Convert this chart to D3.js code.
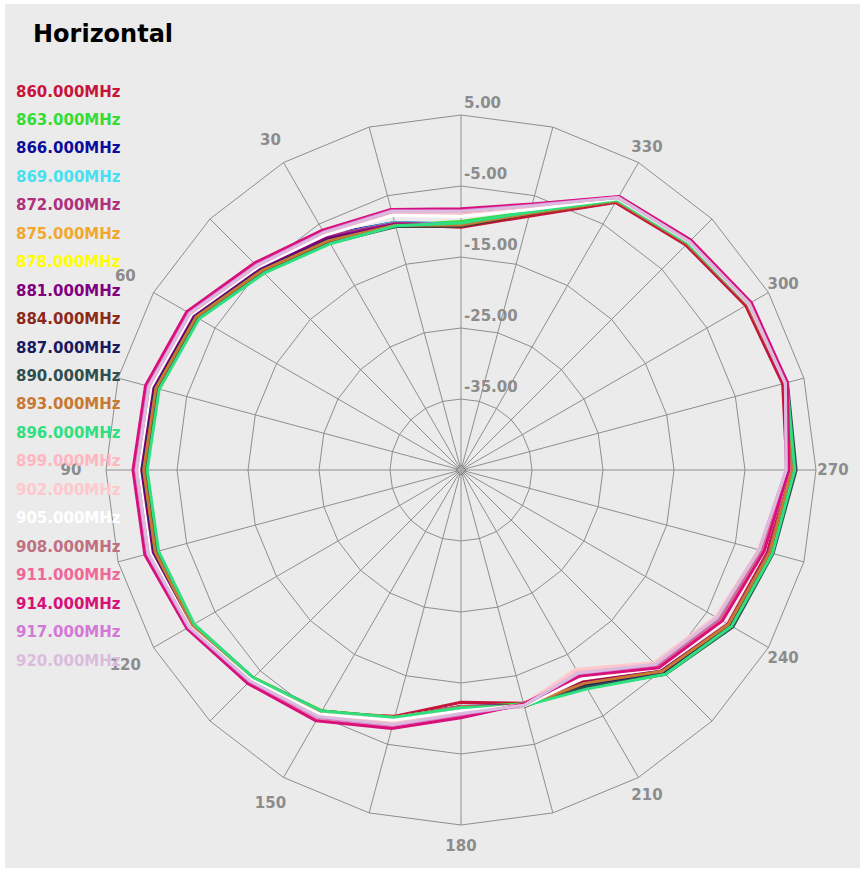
<!DOCTYPE html>
<html>
<head>
<meta charset="utf-8">
<script src="https://cdn.jsdelivr.net/npm/d3@7"></script>
<style>
  body { margin: 0; background: #ffffff; }
  text { font-family: "DejaVu Sans", Verdana, sans-serif; font-weight: bold; }
</style>
</head>
<body>
<script>
// angles in degrees, counter-clockwise from the top
const angles = d3.range(0, 360, 15);
const angleTicks = [30, 60, 90, 120, 150, 180, 210, 240, 270, 300, 330];
const radialTicks = [5, -5, -15, -25, -35];
const radialLabels = ['5.00', '-5.00', '-15.00', '-25.00', '-35.00'];

const freqs = ['860.000MHz', '863.000MHz', '866.000MHz', '869.000MHz', '872.000MHz', '875.000MHz',
  '878.000MHz', '881.000MHz', '884.000MHz', '887.000MHz', '890.000MHz', '893.000MHz', '896.000MHz',
  '899.000MHz', '902.000MHz', '905.000MHz', '908.000MHz', '911.000MHz', '914.000MHz', '917.000MHz',
  '920.000MHz'];

const colors = ['#c8143c', '#33dd33', '#0c0c9c', '#48e0f0', '#b03080', '#f0a830', '#ffff00',
  '#800080', '#8b2a1a', '#1a1a60', '#2f4f4f', '#c87830', '#30e080', '#ffb6c1', '#ffc8cc',
  '#ffffff', '#c07080', '#f06898', '#d8107a', '#d478d8', '#dcbcdc'];

// gain in dB, one value per 15 degrees
const gains = [
  [-10.8, -9.2, -6.7, -4.0, -0.6, 0.8, 1.0, 0.8, -0.6, -3.2, -5.5, -9.1, -12.3, -11.0, -10.6, -5.0, -1.6, -0.3, 0.9, 1.9, 1.3, -0.2, -1.5, -8.0],
  [-10.0, -9.3, -8.0, -5.6, -2.2, -0.8, -0.6, -0.6, -1.5, -3.6, -5.8, -8.9, -11.6, -10.9, -9.6, -4.3, -0.9, 0.4, 2.1, 2.5, 1.8, 0.3, -1.1, -7.4],
  [-10.4, -8.9, -6.8, -4.3, -0.9, 0.5, 0.7, 0.5, -0.8, -3.4, -5.6, -8.9, -11.7, -10.7, -10.1, -4.7, -1.3, 0.1, 1.8, 2.3, 1.6, 0.1, -1.2, -7.6],
  [-10.4, -8.9, -7.0, -4.5, -1.1, 0.3, 0.5, 0.3, -0.9, -3.5, -5.7, -8.9, -11.6, -10.6, -10.2, -4.8, -1.4, 0.0, 1.7, 2.3, 1.6, 0.1, -1.2, -7.6],
  [-10.5, -9.0, -7.0, -4.6, -1.2, 0.2, 0.4, 0.3, -0.9, -3.4, -5.6, -8.8, -11.7, -10.7, -10.2, -4.9, -1.5, -0.1, 1.5, 2.2, 1.6, 0.2, -1.1, -7.5],
  [-10.6, -9.3, -7.4, -5.0, -1.6, -0.2, 0.0, -0.1, -1.2, -3.6, -5.8, -8.9, -11.6, -10.6, -10.3, -4.9, -1.5, 0.0, 1.6, 2.3, 1.7, 0.1, -1.2, -7.6],
  [-10.6, -9.4, -7.5, -5.1, -1.7, -0.3, -0.1, -0.2, -1.2, -3.6, -5.8, -8.9, -11.6, -10.6, -10.3, -4.9, -1.4, 0.1, 1.7, 2.4, 1.7, 0.1, -1.2, -7.6],
  [-10.5, -9.2, -7.3, -4.9, -1.5, -0.1, 0.1, 0.0, -1.1, -3.5, -5.7, -8.8, -11.6, -10.6, -10.4, -5.0, -1.5, 0.0, 1.6, 2.3, 1.6, 0.1, -1.2, -7.6],
  [-10.7, -9.5, -7.8, -5.4, -2.0, -0.6, -0.4, -0.5, -1.4, -3.5, -5.7, -8.8, -11.5, -10.5, -10.3, -4.9, -1.4, 0.1, 1.7, 2.4, 1.7, 0.1, -1.2, -7.7],
  [-10.6, -9.4, -7.6, -5.2, -1.8, -0.4, -0.2, -0.3, -1.3, -3.5, -5.7, -8.8, -11.5, -10.6, -10.0, -4.6, -1.1, 0.3, 1.9, 2.5, 1.8, 0.2, -1.1, -7.6],
  [-10.6, -9.5, -8.1, -5.7, -2.3, -0.9, -0.7, -0.8, -1.5, -3.6, -5.8, -8.9, -11.5, -10.7, -9.7, -4.3, -0.8, 0.5, 2.2, 2.6, 1.9, 0.3, -1.1, -7.5],
  [-10.5, -9.3, -7.7, -5.3, -1.9, -0.5, -0.3, -0.4, -1.3, -3.5, -5.7, -8.9, -11.6, -10.6, -10.3, -4.9, -1.5, 0.0, 1.6, 2.3, 1.6, 0.1, -1.2, -7.6],
  [-10.2, -9.4, -8.2, -5.8, -2.4, -1.0, -0.8, -0.9, -1.6, -3.6, -5.8, -8.9, -11.5, -10.6, -9.4, -4.3, -1.0, 0.4, 2.0, 2.5, 1.8, 0.2, -1.1, -7.4],
  [-8.8, -7.4, -6.5, -4.4, -1.0, 0.4, 0.6, 0.5, -0.8, -3.0, -5.0, -8.1, -10.9, -10.8, -12.4, -6.4, -3.4, -1.4, 1.0, 2.4, 1.9, 0.5, -0.8, -6.6],
  [-8.7, -7.3, -6.4, -4.4, -1.0, 0.4, 0.6, 0.5, -0.8, -3.0, -5.0, -8.0, -10.8, -10.8, -12.6, -6.6, -3.6, -1.6, 0.9, 2.4, 1.9, 0.5, -0.8, -6.5],
  [-9.3, -7.9, -6.8, -4.6, -1.2, 0.2, 0.4, 0.3, -0.9, -3.2, -5.3, -8.5, -11.1, -10.6, -11.0, -5.5, -2.4, -0.8, 1.2, 2.3, 1.8, 0.4, -0.9, -7.0],
  [-8.6, -7.3, -6.3, -4.3, -0.9, 0.5, 0.7, 0.6, -0.7, -2.9, -4.8, -7.8, -10.5, -10.7, -11.8, -5.9, -2.9, -1.1, 1.1, 2.5, 2.0, 0.6, -0.7, -6.4],
  [-8.3, -7.0, -6.1, -3.9, -0.5, 0.9, 1.1, 1.0, -0.5, -2.6, -4.3, -7.4, -10.2, -10.9, -11.6, -5.7, -2.6, -0.9, 1.1, 2.5, 2.1, 0.7, -0.6, -6.3],
  [-8.2, -7.0, -6.0, -3.8, -0.4, 1.0, 1.2, 1.1, -0.4, -2.5, -4.2, -7.3, -10.1, -10.9, -11.5, -5.6, -2.5, -0.8, 1.2, 2.6, 2.2, 0.8, -0.5, -6.2],
  [-8.5, -7.2, -6.3, -4.2, -0.8, 0.6, 0.8, 0.7, -0.7, -2.9, -4.8, -7.8, -10.6, -10.7, -11.9, -6.2, -3.3, -1.5, 0.8, 2.3, 1.9, 0.5, -0.7, -6.4],
  [-8.6, -7.3, -6.4, -4.3, -0.9, 0.5, 0.7, 0.6, -0.8, -3.0, -4.9, -7.9, -10.7, -10.7, -12.0, -6.3, -3.4, -1.5, 0.8, 2.3, 1.9, 0.5, -0.7, -6.5]
];

const width = 865, height = 872;
const cx = 461, cy = 470;
const gridColor = '#8e8e8e';

const svg = d3.select('body').append('svg')
  .attr('width', width)
  .attr('height', height);

svg.append('rect')
  .attr('x', 5).attr('y', 4)
  .attr('width', width - 10).attr('height', height - 8)
  .style('fill', '#ebebeb');

const r = d3.scaleLinear().domain([-45, 5]).range([0, 355]);
const toRad = a => -a * Math.PI / 180;

const plot = svg.append('g').attr('transform', `translate(${cx},${cy})`);

// rings are drawn as polygons through the spokes
const ring = d3.lineRadial()
  .angle(a => toRad(a))
  .curve(d3.curveLinearClosed);

radialTicks.forEach(v => {
  plot.append('path')
    .attr('d', ring.radius(r(v))(angles))
    .style('fill', 'none')
    .style('stroke', gridColor)
    .style('stroke-width', 1);
});

plot.selectAll('.spoke')
  .data(angles)
  .enter().append('line')
  .attr('class', 'spoke')
  .attr('x1', 0).attr('y1', 0)
  .attr('x2', a => r(5) * Math.sin(toRad(a)))
  .attr('y2', a => -r(5) * Math.cos(toRad(a)))
  .style('stroke', gridColor)
  .style('stroke-width', 1);

plot.append('path')
  .attr('d', 'M0,-5L5,0L0,5L-5,0Z')
  .style('fill', '#a8a8a8')
  .style('stroke', '#808080');

const curve = d3.lineRadial()
  .angle((d, i) => toRad(angles[i]))
  .radius(d => r(d))
  .curve(d3.curveLinearClosed);

plot.selectAll('.series')
  .data(gains)
  .enter().append('path')
  .attr('class', 'series')
  .attr('d', d => curve(d))
  .style('fill', 'none')
  .style('stroke', (d, i) => colors[i])
  .style('stroke-width', 3)
  .style('stroke-linejoin', 'round');

plot.selectAll('.rlabel')
  .data(radialTicks)
  .enter().append('text')
  .attr('class', 'rlabel')
  .attr('x', 3)
  .attr('y', v => -r(v) - 12)
  .attr('dominant-baseline', 'middle')
  .style('font-size', '15px')
  .style('fill', '#8c8c8c')
  .text((v, i) => radialLabels[i]);

// labels on the left sit a little further out, as in the original
const labelPos = a => {
  const ux = Math.sin(toRad(a)), uy = -Math.cos(toRad(a));
  const lr = 372 + 18 * Math.max(0, -ux);
  return [lr * ux, lr * uy + 4 * Math.max(0, uy)];
};

plot.selectAll('.alabel')
  .data(angleTicks)
  .enter().append('text')
  .attr('class', 'alabel')
  .attr('x', a => labelPos(a)[0])
  .attr('y', a => labelPos(a)[1])
  .attr('text-anchor', 'middle')
  .attr('dominant-baseline', 'middle')
  .style('font-size', '15px')
  .style('fill', '#8c8c8c')
  .text(a => a);

svg.append('text')
  .attr('x', 33).attr('y', 42)
  .style('font-size', '24px')
  .style('fill', '#000')
  .text('Horizontal');

svg.selectAll('.legend')
  .data(freqs)
  .enter().append('text')
  .attr('class', 'legend')
  .attr('x', 16)
  .attr('y', (d, i) => 92 + i * 28.45)
  .attr('dominant-baseline', 'middle')
  .style('font-size', '15px')
  .style('fill', (d, i) => colors[i])
  .text(d => d);
</script>
</body>
</html>
